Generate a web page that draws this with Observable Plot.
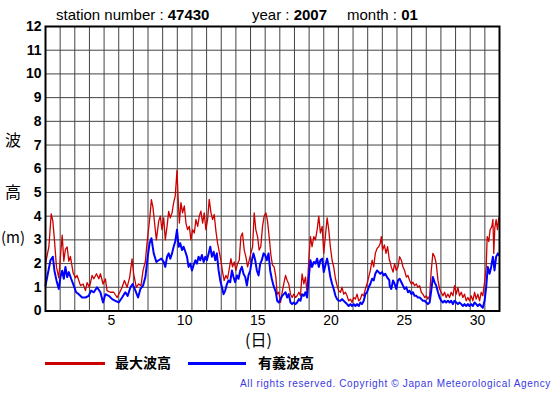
<!DOCTYPE html>
<html>
<head>
<meta charset="utf-8">
<script src="https://cdn.jsdelivr.net/npm/d3@7"></script>
<script src="https://cdn.jsdelivr.net/npm/@observablehq/plot@0.6"></script>
<style>
  html, body { margin: 0; padding: 0; background: #fff; }
  #wrap { position: relative; width: 555px; height: 395px; overflow: hidden; font-family: "Liberation Sans", Arial, sans-serif; }
  #wrap svg { position: absolute; left: 0; top: 0; }
  .abs { position: absolute; white-space: nowrap; line-height: 1; }
  .title { font-size: 15px; color: #000; }
  .title b { font-weight: bold; }
  .jp { font-family: "Noto Sans CJK JP", sans-serif; }
  g[aria-label="y-axis tick label"] text { font-weight: bold; }
</style>
</head>
<body>
<div id="wrap"></div>
<script>
// ---- Data: readings (t = days since 1 Jan 00:00, h = metres) ----
const station = "47430";
const year = "2007";
const month = "01";

const maxSeg1 = [[0,2.0],[0.23,2.7],[0.39,4.1],[0.5,3.8],[0.61,3.0],[0.75,1.85],[0.91,1.4],[1.02,2.3],[1.14,3.2],[1.25,2.1],[1.36,2.6],[1.48,2.7],[1.59,2.1],[1.7,2.3],[1.89,1.6],[2.05,1.4],[2.16,1.5],[2.39,1.07],[2.57,1.14],[2.73,0.86],[2.84,1.2],[3.0,1.0],[3.18,1.5],[3.3,1.36],[3.48,1.57],[3.64,1.36],[3.75,1.57],[3.93,1.14],[4.09,1.36],[4.2,0.86],[4.43,0.79],[4.66,0.79],[4.89,0.57],[5.07,0.79],[5.23,1.0],[5.39,1.29],[5.57,1.0],[5.75,1.43],[5.91,2.2],[6.02,1.57],[6.2,1.0],[6.36,1.14],[6.52,1.07],[6.66,1.7],[6.82,2.1],[6.93,2.86],[7.11,3.86],[7.23,4.7],[7.34,4.36],[7.45,3.7],[7.57,3.0]];
const maxSeg2 = [[7.73,3.79],[7.84,4.0],[7.95,3.43],[8.07,3.93],[8.18,3.0],[8.30,3.57],[8.41,4.2],[8.52,3.93],[8.64,4.14],[8.75,4.57],[8.86,4.86],[8.98,5.93],[9.05,4.86],[9.14,3.71],[9.25,4.57],[9.36,4.14],[9.48,4.43],[9.59,3.71],[9.70,3.43],[9.82,3.57],[9.93,3.0],[10.05,3.43],[10.16,3.29],[10.27,3.86],[10.39,3.57],[10.5,4.0],[10.61,4.21],[10.73,3.71],[10.84,4.14],[10.95,3.43],[11.07,3.86],[11.18,4.71],[11.30,4.14],[11.41,3.86],[11.52,4.07],[11.64,3.36],[11.75,2.86],[11.86,2.5],[11.98,2.14],[12.09,1.64],[12.20,1.29],[12.32,1.5],[12.43,1.36],[12.55,1.79],[12.66,2.21],[12.77,1.86],[12.89,2.07],[13.0,1.71],[13.11,2.0],[13.23,2.14],[13.34,3.14],[13.45,3.29],[13.57,2.57],[13.68,2.29],[13.80,1.86],[13.91,2.14],[14.02,2.43],[14.14,2.71],[14.25,4.14],[14.36,3.43],[14.48,3.14],[14.59,2.57],[14.70,2.71],[14.82,3.57],[14.93,4.0],[15.05,4.14],[15.16,3.79],[15.27,3.14],[15.39,2.36],[15.50,1.93],[15.61,1.86],[15.73,1.43]];
const maxSeg3 = [[15.82,0.71],[15.93,0.79],[16.05,0.36],[16.16,0.79],[16.27,1.14],[16.39,1.5],[16.5,1.29],[16.61,1.14],[16.73,0.71],[16.84,0.57],[16.95,0.71],[17.07,0.57],[17.18,0.64],[17.30,0.79],[17.41,0.64],[17.52,1.57],[17.64,1.14],[17.75,1.43],[17.86,0.79],[17.98,2.14],[18.09,3.14],[18.20,2.71],[18.32,3.14],[18.43,3.0],[18.55,3.43],[18.66,4.0],[18.77,3.29],[18.89,3.57],[19.0,2.43],[19.11,3.14],[19.23,3.93],[19.34,3.43],[19.45,2.71],[19.57,2.14],[19.68,1.86],[19.80,1.36],[19.91,1.07],[20.02,0.86],[20.14,0.79],[20.25,1.0],[20.36,0.71],[20.48,0.79],[20.59,0.64],[20.70,0.43],[20.82,0.5],[20.93,0.36],[21.05,0.57],[21.16,0.5],[21.27,0.71],[21.39,0.43],[21.5,0.5],[21.61,0.71],[21.73,0.64],[21.84,0.93],[21.95,1.14],[22.07,1.43],[22.18,1.71],[22.30,2.14],[22.41,1.86],[22.52,2.43],[22.64,2.64],[22.75,2.71],[22.86,2.86],[22.93,3.14],[23.02,2.57],[23.14,2.79],[23.25,2.43],[23.36,2.71],[23.48,2.14]];
const maxSeg4 = [[23.5,2.14],[23.61,1.86],[23.73,1.64],[23.84,2.0],[23.95,1.71],[24.07,1.86],[24.18,2.29],[24.30,2.14],[24.41,1.86],[24.52,1.71],[24.64,1.43],[24.75,1.5],[24.86,1.29],[24.98,1.14],[25.09,1.21],[25.20,1.07],[25.32,1.14],[25.43,1.0],[25.55,1.07],[25.66,0.79],[25.77,0.71],[25.89,0.57],[26.0,0.64],[26.11,0.5],[26.23,0.64],[26.34,1.71],[26.45,2.43],[26.57,2.29],[26.68,2.0],[26.80,1.29],[26.91,0.93],[27.02,0.79],[27.14,0.64],[27.25,0.79],[27.36,0.57],[27.48,0.71],[27.59,0.57],[27.70,0.79],[27.82,0.64],[27.93,1.07],[28.05,0.71],[28.16,1.0],[28.27,0.64],[28.39,0.79],[28.5,0.57],[28.61,0.71],[28.73,0.43],[28.84,0.57],[28.95,0.43],[29.07,0.64],[29.18,0.43],[29.30,0.79],[29.41,0.5],[29.52,0.71],[29.64,0.43],[29.75,0.79],[29.86,0.64],[29.98,1.21],[30.09,1.86],[30.16,3.14],[30.27,2.93],[30.36,3.43],[30.48,3.57],[30.55,3.86],[30.61,2.43],[30.68,3.5],[30.77,3.86],[30.86,3.43],[30.95,3.93]];

const sigSeg1 = [[0,1.07],[0.16,1.57],[0.34,2.14],[0.5,2.29],[0.61,1.7],[0.75,1.29],[0.91,0.93],[1.02,1.43],[1.14,1.7],[1.25,1.36],[1.36,1.86],[1.48,1.43],[1.59,1.64],[1.75,1.36],[1.93,1.07],[2.09,0.79],[2.27,0.71],[2.5,0.57],[2.73,0.57],[2.95,0.64],[3.11,0.86],[3.3,0.79],[3.52,1.0],[3.75,0.79],[3.93,0.36],[4.09,0.71],[4.32,0.64],[4.55,0.5],[4.77,0.43],[5.0,0.36],[5.23,0.57],[5.45,0.79],[5.61,0.64],[5.8,1.0],[5.95,1.14],[6.14,0.86],[6.32,0.57],[6.48,0.93],[6.66,1.07],[6.82,1.43],[6.98,2.29],[7.11,2.86],[7.23,3.07],[7.39,2.43],[7.57,2.07]];
const sigSeg2 = [[7.73,2.14],[7.91,2.21],[8.07,2.07],[8.18,1.86],[8.30,2.29],[8.41,2.43],[8.52,2.21],[8.64,2.43],[8.75,2.71],[8.86,2.93],[8.98,3.43],[9.09,2.71],[9.2,2.86],[9.32,2.57],[9.43,2.71],[9.55,2.5],[9.66,2.29],[9.77,1.86],[9.89,2.0],[10.0,1.71],[10.11,1.93],[10.23,2.14],[10.34,2.0],[10.45,2.29],[10.57,2.14],[10.68,2.36],[10.8,2.07],[10.91,2.29],[11.02,2.14],[11.14,2.43],[11.25,2.71],[11.36,2.29],[11.48,2.5],[11.59,2.14],[11.7,2.43],[11.82,1.71],[11.93,1.29],[12.05,1.0],[12.16,0.71],[12.27,0.86],[12.39,1.14],[12.5,1.29],[12.61,1.21],[12.73,1.71],[12.84,1.43],[12.95,1.21],[13.07,1.5],[13.18,1.36],[13.3,1.71],[13.41,1.86],[13.52,1.57],[13.64,1.43],[13.75,1.07],[13.86,1.5],[13.98,1.71],[14.09,2.14],[14.2,2.43],[14.32,2.14],[14.43,1.71],[14.55,1.5],[14.66,2.0],[14.77,2.14],[14.89,2.43],[15.0,2.36],[15.11,2.14],[15.23,2.43],[15.34,1.71],[15.45,1.36],[15.57,1.07],[15.73,0.79]];
const sigSeg3 = [[15.82,0.43],[15.93,0.36],[16.05,0.5],[16.16,0.64],[16.27,0.71],[16.39,0.79],[16.5,0.57],[16.61,0.71],[16.73,0.36],[16.84,0.29],[16.95,0.36],[17.07,0.29],[17.18,0.36],[17.30,0.5],[17.41,0.43],[17.52,0.71],[17.64,0.64],[17.75,0.79],[17.86,0.57],[17.98,1.43],[18.09,2.14],[18.2,1.86],[18.32,2.07],[18.43,2.0],[18.55,2.21],[18.66,1.86],[18.77,2.14],[18.89,2.21],[19.0,1.64],[19.11,1.93],[19.23,2.21],[19.34,1.86],[19.45,1.43],[19.57,1.14],[19.68,0.93],[19.8,0.64],[19.91,0.5],[20.02,0.43],[20.14,0.43],[20.25,0.5],[20.36,0.43],[20.48,0.36],[20.59,0.29],[20.7,0.21],[20.82,0.29],[20.93,0.21],[21.05,0.29],[21.16,0.21],[21.27,0.29],[21.39,0.21],[21.5,0.36],[21.61,0.29],[21.73,0.43],[21.84,0.71],[21.95,0.79],[22.07,1.0],[22.18,1.14],[22.3,1.36],[22.41,1.29],[22.52,1.57],[22.64,1.71],[22.75,1.64],[22.86,1.57],[22.98,1.64],[23.09,1.5],[23.2,1.57],[23.32,1.43],[23.48,1.29]];
const sigSeg4 = [[23.5,1.07],[23.61,0.93],[23.73,1.29],[23.84,1.14],[23.95,0.93],[24.07,1.29],[24.18,1.36],[24.3,1.21],[24.41,1.07],[24.52,0.93],[24.64,1.0],[24.75,0.79],[24.86,0.86],[24.98,0.71],[25.09,0.79],[25.2,0.64],[25.32,0.64],[25.43,0.57],[25.55,0.57],[25.66,0.5],[25.77,0.43],[25.89,0.43],[26.0,0.36],[26.11,0.29],[26.23,0.36],[26.34,0.86],[26.45,1.43],[26.57,1.21],[26.68,1.07],[26.8,0.79],[26.91,0.57],[27.02,0.43],[27.14,0.36],[27.25,0.43],[27.36,0.36],[27.48,0.43],[27.59,0.36],[27.7,0.43],[27.82,0.29],[27.93,0.43],[28.05,0.36],[28.16,0.29],[28.27,0.36],[28.39,0.29],[28.5,0.21],[28.61,0.29],[28.73,0.21],[28.84,0.29],[28.95,0.21],[29.07,0.29],[29.18,0.21],[29.3,0.36],[29.41,0.29],[29.52,0.21],[29.64,0.29],[29.75,0.21],[29.86,0.14],[29.98,0.43],[30.09,1.0],[30.2,1.86],[30.32,1.57],[30.43,1.86],[30.55,2.29],[30.66,1.71],[30.77,2.29],[30.89,2.43],[30.95,2.36]];

const xTickLabels = [5, 10, 15, 20, 25, 30];
const yTicks = [0,1,2,3,4,5,6,7,8,9,10,11,12];
const dayLines = [1,2,3,4,5,6,7,8,9,10,11,12,13,14,15,16,17,18,19,20,21,22,23,24,25,26,27,28,29,30];
const seriesNames = ["最大波高", "有義波高"];
const seriesColors = ["#cc0000", "#0000ff"];

const toRows = segs => segs.flat().map(([t, h]) => ({t, h}));
const maxRows = toRows([maxSeg1, maxSeg2, maxSeg3, maxSeg4]);
const sigRows = toRows([sigSeg1, sigSeg2, sigSeg3, sigSeg4]);

const chart = Plot.plot({
  width: 555,
  height: 395,
  marginLeft: 45,
  marginRight: 56,
  marginTop: 26,
  marginBottom: 84.5,
  style: {fontFamily: "'Liberation Sans', Arial, sans-serif", fontSize: "14px", background: "transparent", color: "#000"},
  x: {domain: [0, 31], ticks: xTickLabels.map(d => d - 0.5), tickFormat: d => String(Math.round(d + 0.5)), tickSize: 0, tickPadding: 4, label: null},
  y: {domain: [0, 12], ticks: yTicks, tickSize: 0, tickPadding: 4, label: null},
  marks: [
    Plot.ruleX(dayLines, {stroke: "#444", strokeWidth: 1}),
    Plot.ruleY(yTicks, {stroke: "#444", strokeWidth: 1}),
    Plot.line(maxRows, {x: "t", y: "h", stroke: seriesColors[0], strokeWidth: 1.3}),
    Plot.line(sigRows, {x: "t", y: "h", stroke: seriesColors[1], strokeWidth: 2}),
    Plot.frame({stroke: "#000", strokeWidth: 2})
  ]
});
const wrap = document.getElementById("wrap");
wrap.appendChild(chart);

function addText(html, left, top, cls, extra) {
  const d = document.createElement("div");
  d.className = "abs " + (cls || "");
  d.innerHTML = html;
  d.style.left = left + "px";
  d.style.top = top + "px";
  if (extra) Object.assign(d.style, extra);
  wrap.appendChild(d);
  return d;
}
// title
addText(`station number : <b>${station}</b>`, 56, 7, "title");
addText(`year : <b>${year}</b>`, 252, 7, "title");
addText(`month : <b>${month}</b>`, 347, 7, "title");
// y axis label (stacked)
addText("波", 5, 131, "jp", {fontSize: "16px"});
addText("高", 5, 183, "jp", {fontSize: "16px"});
addText("(m)", 1, 229, "jp", {fontSize: "15px"});
// x axis label
addText("(日)", 245, 331, "jp", {fontSize: "16px"});
// legend
const lx = [45, 188];
const lw = [60, 58];
const tx = [115, 258];
seriesNames.forEach((name, i) => {
  const line = document.createElement("div");
  line.className = "abs";
  Object.assign(line.style, {left: lx[i] + "px", top: "361.5px", width: lw[i] + "px", height: "3px", background: seriesColors[i]});
  wrap.appendChild(line);
  addText(name, tx[i], 355, "jp", {fontSize: "14px", fontWeight: "bold"});
});
// copyright
addText("All rights reserved. Copyright © Japan Meteorological Agency", 240, 379, "", {fontSize: "10px", letterSpacing: "0.65px", color: "#3838e0"});
</script>
</body>
</html>
